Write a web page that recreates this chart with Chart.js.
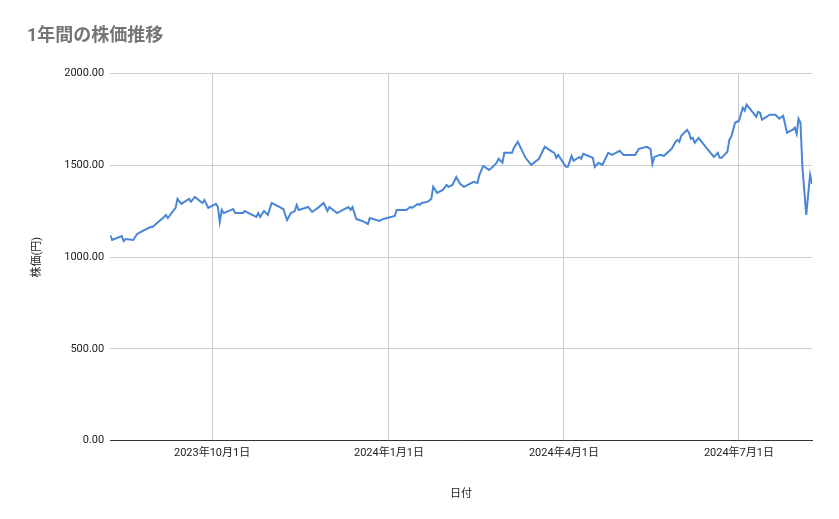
<!DOCTYPE html>
<html>
<head>
<meta charset="utf-8">
<script src="https://cdn.jsdelivr.net/npm/chart.js@4"></script>
<style>
  html, body { margin: 0; padding: 0; background: #fff; }
  #wrap { width: 839px; height: 519px; }
</style>
</head>
<body>
<div id="wrap"><canvas id="c"></canvas></div>
<script>
// 2023-08-09 からの経過日数
const days = [0,1,6,7,8,12,14,16,18,21,22,25,28,29,30,34,35,37,41,42,44,48,49,51,55,56,57,58,59,64,65,69,70,72,76,77,78,80,82,84,87,90,
  92,94,96,97,98,103,105,108,111,113,114,118,121,124,125,126,128,131,133,134,135,140,142,146,148,149,154,156,157,160,161,162,165,167,168,170,173,175,176,178,180,182,
  184,189,191,192,194,197,199,201,202,204,205,209,210,212,216,219,223,226,230,231,232,233,237,238,240,241,244,245,246,251,252,254,256,259,261,265,267,273,
  275,279,281,282,283,286,288,292,294,295,296,297,300,301,302,303,304,306,310,314,316,317,318,321,322,323,325,327,329,330,331,334,336,337,338,339,343,346,348,350,352,355,356,357,358,359,360,362,364,365];
const prices = [1120,1093,1115,1087,1098,1093,1126,1137,1148,1164,1164,1191,1219,1230,1213,1268,1317,1290,1317,1301,1328,1295,1311,1268,1290,1273,1191,1257,1240,1262,1240,1240,1251,1240,1219,1240,1219,1251,1230,1295,1279,1262,
  1202,1240,1251,1284,1257,1273,1246,1268,1295,1251,1273,1240,1257,1273,1257,1273,1208,1197,1186,1180,1213,1197,1208,1219,1224,1257,1257,1273,1268,1290,1284,1295,1301,1317,1383,1350,1366,1393,1383,1393,1437,1399,
  1383,1410,1404,1448,1497,1475,1492,1514,1536,1514,1568,1568,1596,1628,1541,1503,1536,1601,1574,1568,1541,1557,1492,1492,1552,1525,1546,1536,1563,1541,1492,1514,1503,1568,1557,1579,1557,1557,
  1590,1601,1590,1508,1546,1557,1552,1590,1628,1639,1628,1661,1694,1678,1645,1650,1623,1650,1596,1546,1568,1541,1541,1574,1639,1656,1732,1743,1814,1798,1831,1792,1765,1792,1787,1749,1776,1776,1754,1770,1678,1694,1705,1672,1754,1732,1492,1230,1448,1399];
const tickDays = [53, 145, 236, 327];
const tickLabels = ['2023年10月1日', '2024年1月1日', '2024年4月1日', '2024年7月1日'];
const yTicks = [0, 500, 1000, 1500, 2000];

const font = "Roboto, 'Noto Sans CJK JP', sans-serif";

new Chart(document.getElementById('c'), {
  type: 'line',
  data: {
    datasets: [{
      data: days.map((d, i) => ({ x: d, y: prices[i] })),
      borderColor: '#4a86d8',
      borderWidth: 2,
      pointRadius: 0,
      tension: 0
    }]
  },
  options: {
    responsive: true,
    maintainAspectRatio: false,
    animation: false,
    layout: { padding: { left: 27, right: 27, top: 10, bottom: 14 } },
    plugins: {
      legend: { display: false },
      tooltip: { enabled: false },
      title: {
        display: true,
        text: '1年間の株価推移',
        align: 'start',
        color: '#757575',
        font: { family: font, size: 18, weight: 'bold' },
        padding: { top: 16, bottom: 26 }
      }
    },
    scales: {
      x: {
        type: 'linear',
        min: 0, max: 365,
        afterBuildTicks: s => { s.ticks = tickDays.map(v => ({ value: v })); },
        ticks: {
          callback: (v) => tickLabels[tickDays.indexOf(v)],
          color: '#222', font: { family: font, size: 11 }, maxRotation: 0, padding: 6
        },
        grid: { color: '#cccccc', drawTicks: false },
        border: { color: '#333' },
        title: { display: true, text: '日付', color: '#222', font: { family: font, size: 11 }, padding: { top: 22 } }
      },
      y: {
        min: 0, max: 2000,
        afterBuildTicks: s => { s.ticks = yTicks.map(v => ({ value: v })); },
        ticks: {
          callback: v => v.toFixed(2),
          color: '#222', font: { family: font, size: 11 }, padding: 6
        },
        grid: { color: '#cccccc', drawTicks: false },
        border: { display: false },
        title: { display: true, text: '株価(円)', color: '#222', font: { family: font, size: 11 }, padding: { bottom: 14 } }
      }
    }
  }
});
</script>
</body>
</html>
